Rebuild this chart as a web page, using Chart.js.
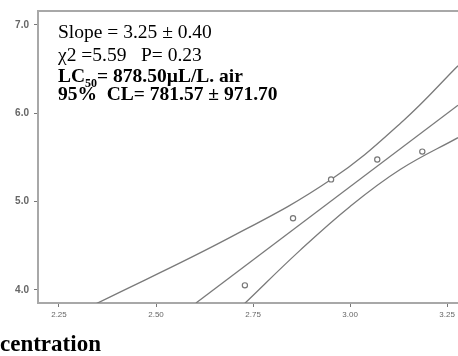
<!DOCTYPE html>
<html>
<head>
<meta charset="utf-8">
<script src="https://cdn.jsdelivr.net/npm/chart.js@4"></script>
<style>
  body { margin: 0; background: #fff; }
  #wrap { position: relative; width: 458px; height: 356px; overflow: hidden; }
  .note { position: absolute; left: 58px; font-family: "Liberation Serif", "DejaVu Serif", serif; font-size: 19.5px; color: #000; white-space: pre; line-height: 1; }
  .b { font-weight: bold; }
  sub { font-size: 12px; vertical-align: -5px; line-height: 0; }
  #xtitle { position: absolute; left: 0; top: 331px; font-family: "Liberation Serif", serif; font-weight: bold; font-size: 23px; color: #000; }
</style>
</head>
<body>
<div id="wrap">
  <canvas id="grafico" width="458" height="356"></canvas>
  <div class="note" style="top:22px">Slope = 3.25 ± 0.40</div>
  <div class="note" style="top:45px">χ2 =5.59   P= 0.23</div>
  <div class="note b" style="top:66px">LC<sub>50</sub>= 878.50µL/L. air</div>
  <div class="note b" style="top:84px">95%  CL= 781.57 ± 971.70</div>
  <div id="xtitle">centration</div>
</div>
<script>
// --- dados (log da concentração x probit) ---
const logDose = [2.729, 2.853, 2.951, 3.070, 3.186];
const probit = [4.05, 4.81, 5.25, 5.475, 5.565];

// reta de regressão
const fitX = [2.603, 3.278];
const fitY = [3.85, 6.09];

// limites de confiança (curvas)
const upperX = [2.345, 2.691, 2.951, 3.137, 3.278];
const upperY = [3.84, 4.593, 5.249, 5.915, 6.537];
const lowerX = [2.729, 2.871, 3.000, 3.129, 3.278];
const lowerY = [3.847, 4.446, 4.944, 5.362, 5.723];

// marcas dos eixos
const xTicks = [2.25, 2.50, 2.75, 3.00, 3.25];
const yTicks = [4.0, 5.0, 6.0, 7.0];

const pares = (xs, ys) => xs.map((x, i) => ({ x: x, y: ys[i] }));

const linhaCinza = '#7a7a7a';
const eixoCinza = '#a8a8a8';

// linha de cima da moldura
const molduraTopo = {
    id: 'molduraTopo',
    afterDraw(chart) {
        const { ctx, chartArea } = chart;
        ctx.save();
        ctx.strokeStyle = eixoCinza;
        ctx.lineWidth = 2;
        ctx.beginPath();
        ctx.moveTo(chartArea.left, chartArea.top);
        ctx.lineTo(chart.width, chartArea.top);
        ctx.stroke();
        ctx.restore();
    }
};

// tira o espaço extra que o Chart.js reserva para os rótulos das pontas
const semSobra = scale => {
    scale.paddingRight = 0;
    scale.paddingLeft = 0;
};

new Chart(document.getElementById('grafico'), {
    type: 'scatter',
    data: {
        datasets: [
            {
                data: pares(logDose, probit),
                pointStyle: 'circle',
                pointRadius: 2.6,
                pointBorderWidth: 1.2,
                pointBorderColor: '#777',
                pointBackgroundColor: '#fff'
            },
            {
                data: pares(fitX, fitY),
                showLine: true,
                pointRadius: 0,
                borderColor: linhaCinza,
                borderWidth: 1.3
            },
            {
                data: pares(upperX, upperY),
                showLine: true,
                tension: 0.4,
                pointRadius: 0,
                borderColor: linhaCinza,
                borderWidth: 1.3
            },
            {
                data: pares(lowerX, lowerY),
                showLine: true,
                tension: 0.4,
                pointRadius: 0,
                borderColor: linhaCinza,
                borderWidth: 1.3
            }
        ]
    },
    options: {
        responsive: false,
        animation: false,
        layout: { autoPadding: false, padding: { top: 10, right: 0, left: 0, bottom: 0 } },
        plugins: { legend: { display: false }, tooltip: { enabled: false } },
        scales: {
            x: {
                type: 'linear',
                min: 2.196,
                max: 3.278,
                afterBuildTicks: scale => { scale.ticks = xTicks.map(v => ({ value: v })); },
                afterFit: scale => { scale.height = 53; semSobra(scale); },
                border: { color: eixoCinza, width: 2 },
                grid: { drawOnChartArea: false, tickLength: 4, tickColor: '#777', tickWidth: 1 },
                ticks: {
                    color: '#666',
                    font: { family: 'Liberation Sans', size: 8 },
                    padding: 3,
                    maxRotation: 0,
                    callback: v => Number(v).toFixed(2)
                }
            },
            y: {
                min: 3.85,
                max: 7.158,
                afterBuildTicks: scale => { scale.ticks = yTicks.map(v => ({ value: v })); },
                afterFit: scale => { scale.width = 38; },
                border: { color: eixoCinza, width: 2 },
                grid: { drawOnChartArea: false, tickLength: 4, tickColor: '#777', tickWidth: 1 },
                ticks: {
                    color: '#666',
                    font: { family: 'Liberation Sans', size: 10, weight: 'bold' },
                    padding: 5,
                    callback: v => Number(v).toFixed(1)
                }
            }
        }
    },
    plugins: [molduraTopo]
});
</script>
</body>
</html>
